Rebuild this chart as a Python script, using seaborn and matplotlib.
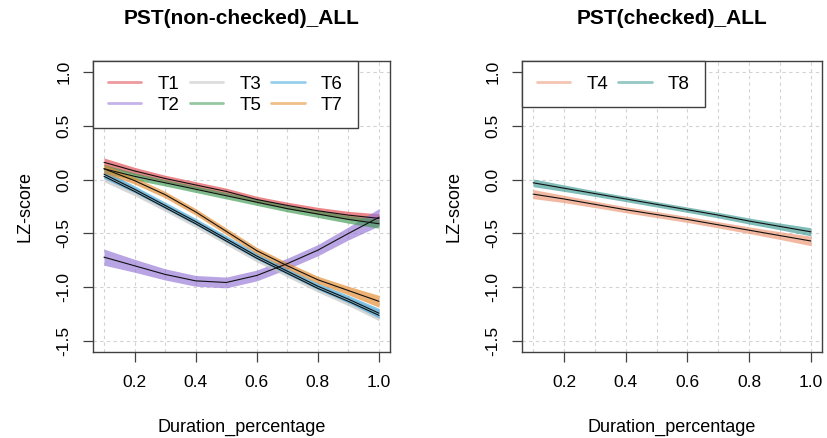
import numpy as np
import pandas as pd
import matplotlib
matplotlib.use("Agg")
import matplotlib.pyplot as plt
import seaborn as sns
from matplotlib.lines import Line2D
from matplotlib.ticker import MultipleLocator

# ---------------- data ----------------
duration = [0.1, 0.2, 0.3, 0.4, 0.5, 0.6, 0.7, 0.8, 0.9, 1.0]

# left panel: PST(non-checked)_ALL
T1_fit = [0.16, 0.08, 0.01, -0.05, -0.11, -0.185, -0.24, -0.29, -0.33, -0.36]
T1_hw = [0.040, 0.033, 0.030, 0.030, 0.030, 0.030, 0.030, 0.032, 0.035, 0.042]
T2_fit = [-0.72, -0.80, -0.88, -0.94, -0.955, -0.89, -0.78, -0.655, -0.50, -0.35]
T2_hw = [0.075, 0.060, 0.052, 0.050, 0.050, 0.050, 0.050, 0.052, 0.060, 0.080]
T3_fit = [0.03, -0.11, -0.26, -0.41, -0.57, -0.73, -0.87, -1.01, -1.13, -1.26]
T3_hw = [0.050, 0.040, 0.035, 0.035, 0.035, 0.035, 0.035, 0.035, 0.040, 0.050]
T5_fit = [0.10, 0.03, -0.03, -0.09, -0.15, -0.21, -0.27, -0.32, -0.37, -0.41]
T5_hw = [0.040, 0.033, 0.030, 0.030, 0.030, 0.030, 0.030, 0.032, 0.035, 0.042]
T6_fit = [0.05, -0.09, -0.24, -0.39, -0.55, -0.71, -0.85, -0.99, -1.11, -1.24]
T6_hw = [0.040, 0.032, 0.030, 0.030, 0.030, 0.030, 0.030, 0.031, 0.035, 0.045]
T7_fit = [0.10, -0.01, -0.14, -0.30, -0.48, -0.66, -0.80, -0.93, -1.03, -1.13]
T7_hw = [0.040, 0.032, 0.030, 0.030, 0.030, 0.030, 0.030, 0.033, 0.040, 0.055]

# right panel: PST(checked)_ALL
T4_fit = [-0.135, -0.18, -0.23, -0.28, -0.325, -0.37, -0.42, -0.47, -0.52, -0.57]
T4_hw = [0.042, 0.034, 0.030, 0.028, 0.028, 0.028, 0.029, 0.031, 0.036, 0.044]
T8_fit = [-0.03, -0.08, -0.13, -0.18, -0.23, -0.28, -0.33, -0.385, -0.435, -0.485]
T8_hw = [0.036, 0.030, 0.026, 0.025, 0.025, 0.025, 0.026, 0.028, 0.031, 0.038]

left_names = ["T1", "T2", "T3", "T5", "T6", "T7"]
right_names = ["T4", "T8"]
fits = {"T1": T1_fit, "T2": T2_fit, "T3": T3_fit, "T5": T5_fit, "T6": T6_fit,
        "T7": T7_fit, "T4": T4_fit, "T8": T8_fit}
halfw = {"T1": T1_hw, "T2": T2_hw, "T3": T3_hw, "T5": T5_hw, "T6": T6_hw,
         "T7": T7_hw, "T4": T4_hw, "T8": T8_hw}

colors = {"T1": "#E0464E", "T2": "#9575D6", "T3": "#C2C2C2", "T5": "#3F9A52",
          "T6": "#44A9DC", "T7": "#E5892C", "T4": "#EC9470", "T8": "#3E9A94"}

titles = ["PST(non-checked)_ALL", "PST(checked)_ALL"]
x_ticks = [0.2, 0.4, 0.6, 0.8, 1.0]
y_ticks = [-1.5, -1.0, -0.5, 0.0, 0.5, 1.0]

# ---------------- style ----------------
sns.set_theme(style="white")
plt.rcParams["font.family"] = ["Liberation Sans", "DejaVu Sans"]
plt.rcParams["text.color"] = "black"
plt.rcParams["axes.labelcolor"] = "black"

W, H = 828, 438
fig = plt.figure(figsize=(W / 100, H / 100), dpi=100)
ax_left = fig.add_axes([93 / W, 1 - 352 / H, (390 - 93) / W, (352 - 61) / H])
ax_right = fig.add_axes([522 / W, 1 - 352 / H, (822 - 522) / W, (352 - 61) / H])

box_col = "#404040"
grid_col = "#D3D3D3"


def draw_panel(ax, names, title, ncol):
    rows = []
    for n in names:
        for xv, yv in zip(duration, fits[n]):
            rows.append({"Duration_percentage": xv, "LZ": yv, "series": n})
    df = pd.DataFrame(rows)

    ax.set_xlim(0.064, 1.036)
    ax.set_ylim(-1.6, 1.1)
    ax.set_xticks(x_ticks)
    ax.set_xticklabels([f"{v:.1f}" for v in x_ticks])
    ax.xaxis.set_minor_locator(MultipleLocator(0.1))
    ax.set_yticks(y_ticks)
    ax.set_yticklabels([f"{v:.1f}" for v in y_ticks])
    ax.grid(True, which="major", axis="y", color=grid_col, linestyle=(0, (3, 3)), linewidth=0.8)
    ax.grid(True, which="both", axis="x", color=grid_col, linestyle=(0, (3, 3)), linewidth=0.8)
    ax.set_axisbelow(True)

    for n in names:
        lo = [f - h for f, h in zip(fits[n], halfw[n])]
        hi = [f + h for f, h in zip(fits[n], halfw[n])]
        ax.fill_between(duration, lo, hi, color=colors[n], alpha=0.66, linewidth=0, zorder=2)
        sns.lineplot(data=df[df["series"] == n], x="Duration_percentage", y="LZ",
                     color="#111111", linewidth=0.8, ax=ax, zorder=3, legend=False)

    for sp in ax.spines.values():
        sp.set_visible(True)
        sp.set_color(box_col)
        sp.set_linewidth(1.0)

    ax.tick_params(axis="both", which="major", direction="out", length=7.2, width=0.9,
                   color=box_col, labelsize=12.5, labelcolor="black",
                   bottom=True, left=True)
    ax.tick_params(axis="x", which="major", pad=9.5)
    ax.tick_params(axis="y", which="major", pad=8.5)
    ax.tick_params(axis="x", which="minor", length=0, bottom=False)
    for lab in ax.get_yticklabels():
        lab.set_rotation(90)
        lab.set_va("center")

    ax.set_xlabel("Duration_percentage", fontsize=13, va="center")
    ax.xaxis.set_label_coords(0.5, -(427 - 352) / 291)
    ax.set_ylabel("LZ-score", fontsize=13, va="baseline")
    ax.yaxis.set_label_coords(-63 / 297, 0.5)

    ax.set_title(title, fontsize=15, fontweight="bold", pad=0, y=1 + (61 - 19) / 291, va="center")

    handles = [Line2D([0], [0], color=colors[n], alpha=0.55, linewidth=2) for n in names]
    leg = ax.legend(handles, names, loc="upper left", bbox_to_anchor=(0, 1), borderaxespad=0,
                    ncol=ncol, frameon=True, fancybox=False, framealpha=1,
                    edgecolor=box_col, fontsize=13.5, handlelength=1.8, handletextpad=0.85,
                    columnspacing=0.55, labelspacing=0.2, borderpad=0.78)
    leg.get_frame().set_linewidth(1.0)
    leg.set_zorder(5)


draw_panel(ax_left, left_names, titles[0], 3)
draw_panel(ax_right, right_names, titles[1], 2)

fig.savefig("out.png", dpi=100, facecolor="white")
